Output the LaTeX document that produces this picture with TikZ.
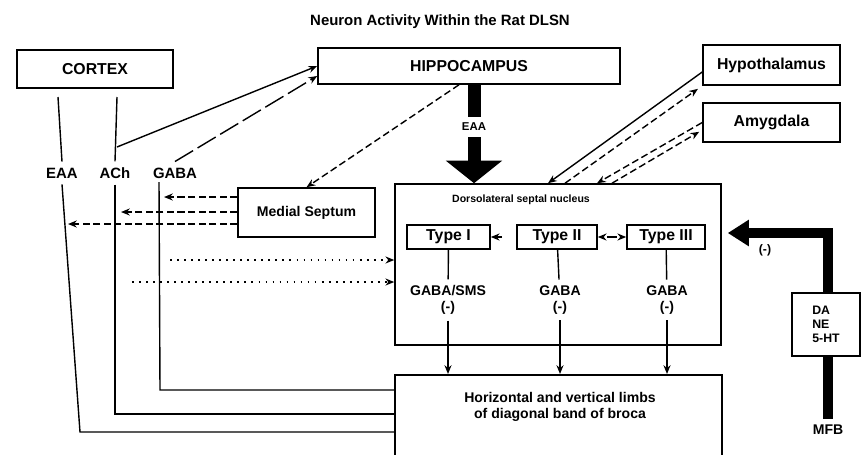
\documentclass[tikz,border=0pt]{standalone}
\usepackage{fontspec}
\setmainfont{Liberation Sans}
\usetikzlibrary{arrows.meta}
\newcommand{\huruf}[2]{\fontsize{#1}{#2}\selectfont\bfseries}

\begin{document}
\begin{tikzpicture}[x=0.02cm, y=-0.02cm,
  kotak/.style={draw, line width=0.9pt, inner sep=0pt},
  garis/.style={line width=0.8pt},
  panah/.style={garis, -{Stealth[length=5pt,width=4pt]}},
  putus/.style={panah, dash pattern=on 4pt off 2pt},
  putuspanjang/.style={panah, dash pattern=on 12pt off 3pt},
  bintik/.style={panah, dash pattern=on 1pt off 3pt},
  tebal/.style={line width=0.26cm},
  tebalpanah/.style={tebal, -{Triangle[width=1.1cm,length=0.45cm]}},
  sisipanah/.style={line width=0.2cm, line join=miter, -{Triangle[width=0.5cm,length=0.42cm]}}]
  \useasboundingbox (0,0) rectangle (861,454);
  \clip (0,0) rectangle (861,454);

  \node[font=\huruf{8.5}{10}] (judul) at (440,22) {Neuron Activity Within the Rat DLSN};
  \node[kotak, minimum width=3.12cm, minimum height=0.76cm, font=\huruf{9}{10}] (cortex) at (95,69) {CORTEX};
  \node[kotak, minimum width=6.04cm, minimum height=0.72cm, font=\huruf{9}{10}] (hip) at (469,66) {HIPPOCAMPUS};
  \node[kotak, minimum width=2.74cm, minimum height=0.8cm, font=\huruf{9}{10}] (hypo) at (771.5,65) {Hypothalamus};
  \node[kotak, minimum width=2.74cm, minimum height=0.78cm, font=\huruf{9}{10}] (amy) at (771.5,122.5) {Amygdala};
  \node[kotak, minimum width=2.74cm, minimum height=0.98cm, font=\huruf{8}{9}] (ms) at (306.5,212.5) {Medial Septum};
  \node[kotak, minimum width=6.52cm, minimum height=3.22cm] (dlsn) at (558,264.5) {};
  \node[font=\huruf{6}{7}] (dlsnjudul) at (521,200) {Dorsolateral septal nucleus};
  \node[kotak, minimum width=1.66cm, minimum height=0.48cm, font=\huruf{9}{10}] (t1) at (448.5,237) {Type I};
  \node[kotak, minimum width=1.6cm, minimum height=0.48cm, font=\huruf{9}{10}] (t2) at (557,237) {Type II};
  \node[kotak, minimum width=1.56cm, minimum height=0.48cm, font=\huruf{9}{10}] (t3) at (666,237) {Type III};
  \node[kotak, minimum width=6.54cm, minimum height=2cm, anchor=north] (limbs) at (558.5,374) {};
  \node[font=\huruf{8}{9.5}, align=center] (limbsteks) at (560,407) {Horizontal and vertical limbs\\of diagonal band of broca};
  \node[kotak, minimum width=1.36cm, minimum height=1.26cm, font=\huruf{7}{8}, align=left] (da) at (826,324.5) {DA\\NE\\5-HT};

  \node[font=\huruf{8.5}{10}] (eaacol) at (62,173) {EAA};
  \node[font=\huruf{8.5}{10}] (achcol) at (115,173) {ACh};
  \node[font=\huruf{8.5}{10}] (gabacol) at (175,173) {GABA};
  \node[font=\huruf{6.5}{7}] (eaa) at (474,127) {EAA};
  \node[font=\huruf{8}{9}, align=center] (g1) at (448,300) {GABA/SMS\\(-)};
  \node[font=\huruf{8}{9}, align=center] (g2) at (560,300) {GABA\\(-)};
  \node[font=\huruf{8}{9}, align=center] (g3) at (667,300) {GABA\\(-)};
  \node[font=\huruf{7}{8}] (neg) at (765,250) {(-)};
  \node[font=\huruf{8}{9}] (mfb) at (828,430) {MFB};

  \coordinate (e0) at (58,97);
  \coordinate (e1) at (80,432);
  \coordinate (a0) at (117,97);
  \coordinate (a1) at (117,147);
  \coordinate (a2) at (115,414);
  \coordinate (g0) at (159,182);
  \coordinate (gg) at (160,390);
  \coordinate (s1) at (164,197);
  \coordinate (s2) at (121,212);
  \coordinate (s3) at (68,224);
  \coordinate (d1) at (170,260);
  \coordinate (d2) at (132,282);
  \coordinate (k)  at (828,233);

  \draw[garis] (e0) -- (eaacol.north);
  \draw[garis] (eaacol.south) -- (e1) -- (e1 -| limbs.west);
  \draw[garis] (a0) -- (achcol.north);
  \draw[panah] (a1) -- (hip.west);
  \draw[garis] (achcol.south) -- (a2) -- (a2 -| limbs.west);
  \draw[putuspanjang] (gabacol.north) -- ([yshift=-0.2cm]hip.west);
  \draw[garis] (g0) -- (gg) -- (gg -| limbs.west);
  \draw[putus] ([xshift=-0.2cm]hip.south) -- (ms.north);
  \draw[putus] (ms.west |- s1) -- (s1);
  \draw[putus] (ms.west |- s2) -- (s2);
  \draw[putus] (ms.west |- s3) -- (s3);
  \draw[bintik] (d1) -- (d1 -| dlsn.west);
  \draw[bintik] (d2) -- (d2 -| dlsn.west);
  \draw[panah] ([yshift=-0.14cm]hypo.west) -- ([xshift=-0.2cm]dlsn.north);
  \draw[putus, shorten >=3pt] ([xshift=0.14cm]dlsn.north) -- (hypo.south west);
  \draw[putus] (amy.west) -- ([xshift=0.78cm]dlsn.north);
  \draw[putus, shorten >=2pt] ([xshift=1.08cm]dlsn.north) -- ([yshift=-0.15cm]amy.west);

  \draw[tebal] (hip.south -| eaa) -- (eaa.north);
  \draw[tebalpanah] (eaa.south) -- (eaa |- dlsn.north);

  \draw[panah, densely dashed, shorten <=8pt] (t2) -- (t1);
  \draw[panah, densely dashed, shorten <=8pt] (t3) -- (t2);
  \draw[panah, densely dashed, shorten <=8pt] (t2) -- (t3);

  \draw[garis] (t1) -- (g1);
  \draw[garis] (t2) -- (g2);
  \draw[garis] (t3) -- (g3);
  \draw[panah] (g1) -- (g1 |- limbs.north);
  \draw[panah] (g2) -- (g2 |- limbs.north);
  \draw[panah] (g3) -- (g3 |- limbs.north);

  \draw[sisipanah, shorten >=0.12cm] (da.north -| k) -- (k) -- (k -| dlsn.east);
  \draw[line width=0.2cm] (da.south -| k) -- (mfb.north);
\end{tikzpicture}
\end{document}
